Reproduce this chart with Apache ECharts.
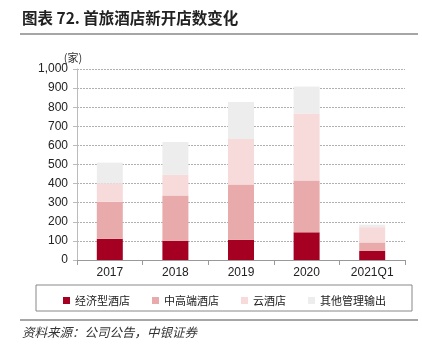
<!DOCTYPE html>
<html>
<head>
<meta charset="utf-8">
<script src="https://cdn.jsdelivr.net/npm/echarts@6/dist/echarts.min.js"></script>
<style>
  html, body { margin: 0; padding: 0; background: #fff; }
  #chart { width: 422px; height: 353px; }
</style>
</head>
<body>
<div id="chart"></div>
<script>
  // 年份
  const years = ['2017', '2018', '2019', '2020', '2021Q1'];
  // 各类新开店数（家）
  const economy = [111, 101, 106, 145, 47];
  const midHigh = [194, 237, 289, 271, 45];
  const cloud = [97, 108, 239, 351, 80];
  const other = [108, 172, 193, 141, 13];
  const yTicks = [0, 100, 200, 300, 400, 500, 600, 700, 800, 900, 1000];

  const font = '"Noto Sans CJK SC", sans-serif';
  let myChart = echarts.init(document.getElementById('chart'));

  function bar(name, data, color) {
    return {
      name: name,
      type: 'bar',
      stack: 'total',
      data: data,
      barWidth: 26,
      itemStyle: { color: color },
      emphasis: { disabled: true }
    };
  }

  let option = {
    animation: false,
    textStyle: { fontFamily: 'Arial, "Liberation Sans", sans-serif' },
    graphic: [
      {
        type: 'text', left: 22, top: 10,
        style: { text: '图表 72. 首旅酒店新开店数变化', font: 'bold 15.5px ' + font, fill: '#222' }
      },
      {
        type: 'line', shape: { x1: 20, y1: 34, x2: 418, y2: 34 },
        style: { stroke: '#888', lineWidth: 1.5 }
      },
      {
        type: 'rect', shape: { x: 36, y: 285, width: 376, height: 26 },
        style: { fill: 'none', stroke: '#888', lineWidth: 1 }
      },
      {
        type: 'line', shape: { x1: 20, y1: 320, x2: 418, y2: 320 },
        style: { stroke: '#888', lineWidth: 1.5 }
      },
      {
        type: 'text', left: 22, top: 326,
        style: { text: '资料来源：公司公告，中银证券', font: 'italic 12.5px ' + font, fill: '#333' }
      }
    ],
    legend: {
      top: 290,
      left: 58,
      itemWidth: 7,
      itemHeight: 7,
      itemGap: 22,
      icon: 'rect',
      textStyle: { fontFamily: font, fontSize: 11, color: '#222' },
      data: ['经济型酒店', '中高端酒店', '云酒店', '其他管理输出']
    },
    grid: { left: 77, right: 17, top: 69, bottom: 93 },
    xAxis: {
      type: 'category',
      data: years,
      axisLine: { lineStyle: { color: '#999' } },
      axisTick: { show: true, lineStyle: { color: '#999' } },
      axisLabel: { color: '#222', fontSize: 12, margin: 7 }
    },
    yAxis: {
      type: 'value',
      name: '(家)',
      nameLocation: 'end',
      nameGap: 4,
      nameTextStyle: { fontFamily: font, fontSize: 11, color: '#333', align: 'center', padding: [0, 8, 0, 0] },
      min: 0,
      max: 1000,
      interval: 100,
      axisLine: { show: true, lineStyle: { color: '#bbb' } },
      axisTick: { show: true, length: 4, lineStyle: { color: '#bbb' } },
      axisLabel: {
        color: '#222', fontSize: 12, margin: 9,
        formatter: v => yTicks.includes(v) ? v.toLocaleString('en-US') : ''
      },
      splitLine: { lineStyle: { color: '#b0b0b0', type: [2, 1], width: 1 } }
    },
    series: [
      bar('经济型酒店', economy, '#A50021'),
      bar('中高端酒店', midHigh, '#E8AAAA'),
      bar('云酒店', cloud, '#F7DADA'),
      bar('其他管理输出', other, '#EDEDED')
    ]
  };
  myChart.setOption(option);
</script>
</body>
</html>
